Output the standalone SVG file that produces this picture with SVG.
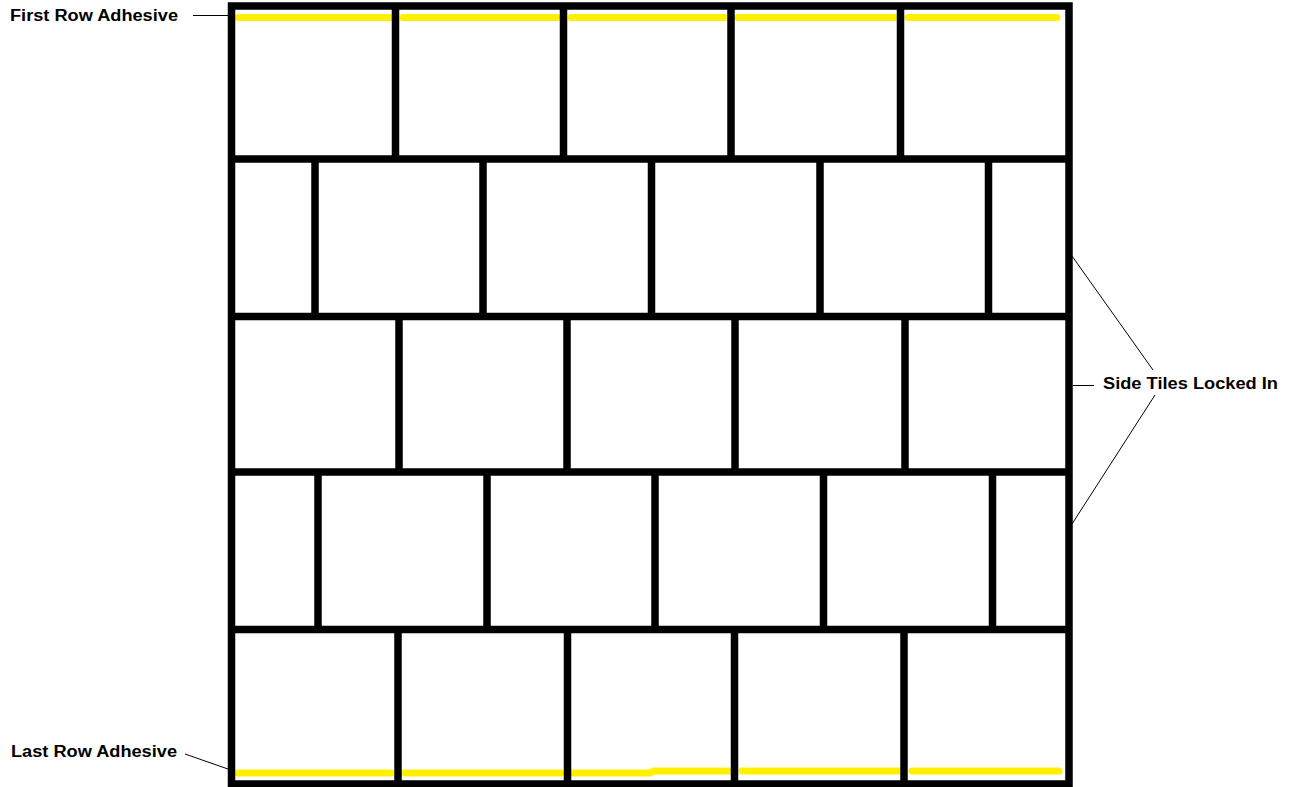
<svg xmlns="http://www.w3.org/2000/svg" width="1291" height="787" viewBox="0 0 1291 787">
<style>
.g{stroke:#000;stroke-width:7.5;fill:none}
.y{stroke:#fff000;stroke-width:7;stroke-linecap:round;fill:none}
.l{stroke:#000;stroke-width:1;fill:none}
.t{font-family:"Liberation Sans",Arial,sans-serif;font-weight:bold;font-size:16px;fill:#000}
</style>
<rect width="1291" height="787" fill="#fff"/>
<g id="adhesive-top">
<path class="y" d="M238 17.5H390M403 17.5H557M571 17.5H725M738 17.5H894M908 17.5H1057"/>
</g>
<g id="adhesive-bottom">
<path class="y" d="M238 773H391M405 773H561M573 773H650L654 771H729M742 771H898M912 771H1059"/>
</g>
<g id="tiles">
<rect class="g" x="231.5" y="6" width="837.5" height="778"/>
<path class="g" d="M231.5 159H1069M231.5 316.5H1069M231.5 472H1069M231.5 629.5H1069"/>
<path class="g" d="M395.5 6V159M563.5 6V159M731 6V159M900.5 6V159"/>
<path class="g" d="M315 159V316.5M483 159V316.5M651.5 159V316.5M820 159V316.5M988.5 159V316.5"/>
<path class="g" d="M399 316.5V472M567 316.5V472M735 316.5V472M905 316.5V472"/>
<path class="g" d="M318 472V629.5M487 472V629.5M655 472V629.5M823.5 472V629.5M992.5 472V629.5"/>
<path class="g" d="M398 629.5V784M567.5 629.5V784M734.5 629.5V784M904 629.5V784"/>
</g>
<g id="label-first-row">
<text class="t" x="10" y="21" textLength="168" lengthAdjust="spacingAndGlyphs">First Row Adhesive</text>
</g>
<g id="label-last-row">
<text class="t" x="11" y="757" textLength="166" lengthAdjust="spacingAndGlyphs">Last Row Adhesive</text>
</g>
<g id="label-side-tiles">
<text class="t" x="1103" y="389" textLength="175" lengthAdjust="spacingAndGlyphs">Side Tiles Locked In</text>
</g>
<g id="connectors">
<path class="l" d="M193 15.5H228"/>
<path class="l" d="M185 754L228 769"/>
<path class="l" d="M1073 385.5H1094"/>
<path class="l" d="M1072 256L1153 370"/>
<path class="l" d="M1155 395L1072 524"/>
</g>
</svg>
